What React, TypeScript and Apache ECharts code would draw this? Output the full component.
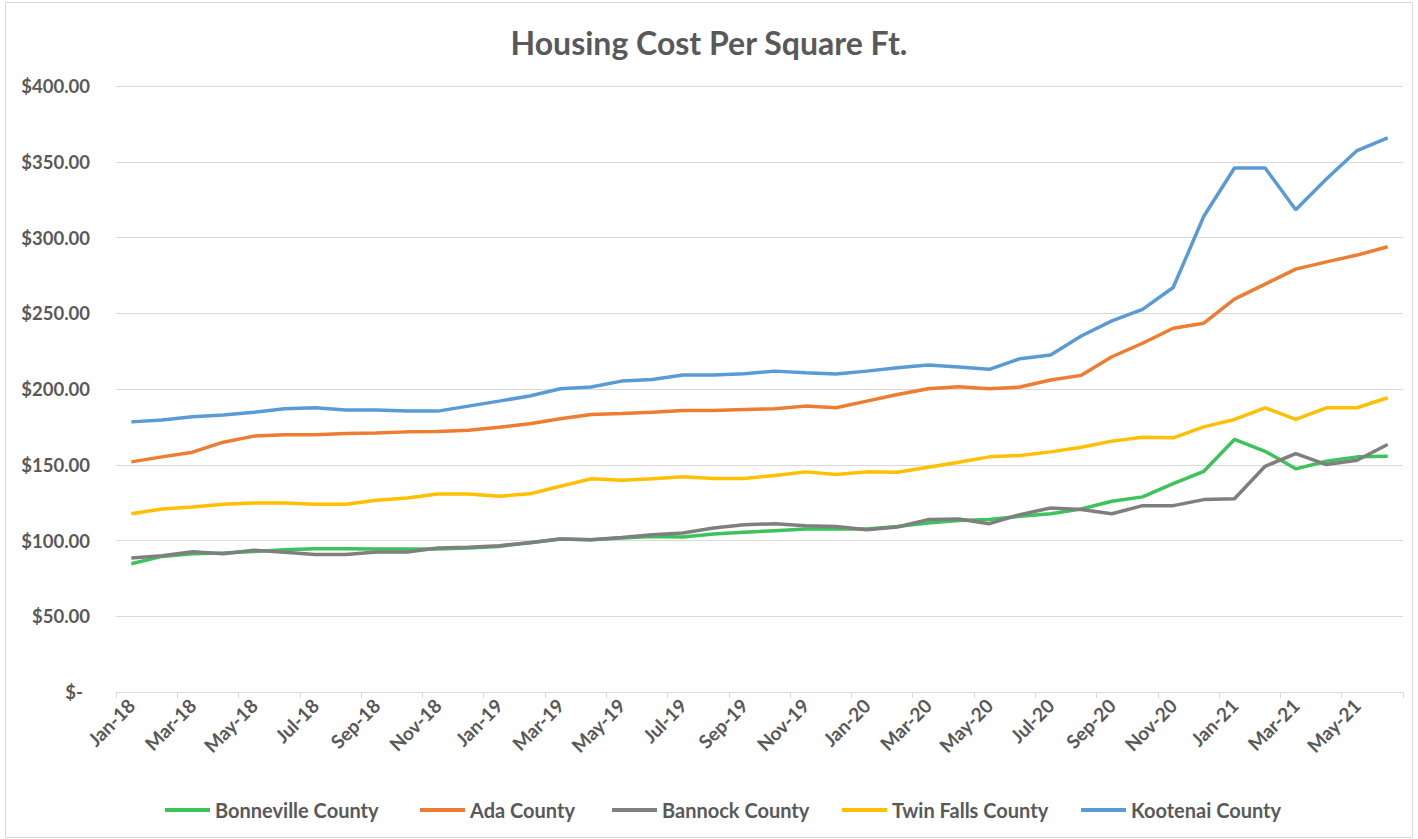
import React, { useEffect, useRef } from "react";
import * as echarts from "echarts";

const months = [
  "Jan-18","Feb-18","Mar-18","Apr-18","May-18","Jun-18","Jul-18","Aug-18","Sep-18","Oct-18","Nov-18","Dec-18",
  "Jan-19","Feb-19","Mar-19","Apr-19","May-19","Jun-19","Jul-19","Aug-19","Sep-19","Oct-19","Nov-19","Dec-19",
  "Jan-20","Feb-20","Mar-20","Apr-20","May-20","Jun-20","Jul-20","Aug-20","Sep-20","Oct-20","Nov-20","Dec-20",
  "Jan-21","Feb-21","Mar-21","Apr-21","May-21","Jun-21",
];

const bonneville = [
  84.7, 89.5, 91.3, 91.7, 92.8, 93.9, 94.6, 94.6, 94.4, 94.4, 94.4, 95.0,
  96.1, 98.5, 101.0, 100.5, 101.6, 102.7, 102.3, 104.3, 105.4, 106.5, 107.6, 107.8,
  107.6, 109.3, 111.6, 113.2, 113.8, 116.0, 117.7, 120.8, 125.9, 128.8, 137.6, 145.7,
  166.7, 158.9, 147.3, 152.3, 155.2, 155.6,
];

const ada = [
  151.9, 155.2, 158.3, 164.9, 168.9, 169.8, 169.8, 170.6, 170.9, 171.7, 172.0, 172.8,
  174.8, 177.0, 180.3, 183.2, 183.9, 184.7, 185.8, 185.8, 186.5, 187.0, 188.7, 187.6,
  192.0, 196.4, 200.2, 201.5, 200.2, 201.3, 205.9, 209.0, 221.3, 230.2, 240.1, 243.4,
  259.3, 269.2, 279.1, 283.9, 288.4, 293.9,
];

const bannock = [
  88.4, 89.9, 92.6, 91.3, 93.5, 92.2, 90.8, 90.8, 92.4, 92.4, 95.0, 95.5,
  96.6, 98.5, 101.0, 100.5, 102.0, 103.8, 104.9, 108.2, 110.4, 111.1, 109.8, 109.3,
  107.1, 108.9, 113.8, 114.2, 111.1, 117.1, 121.5, 120.4, 117.7, 123.0, 123.0, 127.0,
  127.6, 149.0, 157.4, 150.1, 153.0, 163.4,
];

const twinFalls = [
  117.7, 120.8, 122.1, 123.9, 124.8, 124.8, 123.9, 123.9, 126.5, 128.1, 130.7, 130.7,
  129.2, 130.8, 135.8, 140.7, 139.8, 140.7, 142.0, 140.9, 140.9, 142.9, 145.3, 143.5,
  145.3, 145.1, 148.4, 151.7, 155.2, 156.1, 158.5, 161.6, 165.6, 168.2, 167.8, 175.0,
  179.9, 187.6, 179.9, 187.6, 187.6, 194.2,
];

const kootenai = [
  178.3, 179.5, 181.7, 182.8, 184.7, 187.0, 187.6, 186.1, 186.1, 185.4, 185.4, 188.7,
  192.0, 195.4, 200.2, 201.3, 205.2, 206.3, 209.2, 209.2, 210.1, 211.8, 210.8, 209.9,
  211.8, 214.1, 215.8, 214.6, 213.0, 220.0, 222.4, 235.0, 245.0, 252.6, 267.0, 314.0,
  345.9, 345.9, 318.3, 338.6, 357.4, 365.7,
];

const seriesNames = ["Bonneville County", "Ada County", "Bannock County", "Twin Falls County", "Kootenai County"];
const seriesColors = ["#3dc35c", "#ed7d31", "#7f7f7f", "#ffc000", "#5b9bd5"];
const seriesData = [bonneville, ada, bannock, twinFalls, kootenai];
const legendLefts = [165, 420, 612, 842, 1081];

const FONT = "Lato, 'Open Sans', sans-serif";
const TEXT = "#595959";

export default function App() {
  const ref = useRef<HTMLDivElement>(null);

  useEffect(() => {
    if (!ref.current) return;
    const chart = echarts.init(ref.current, undefined, { renderer: "svg" });
    chart.setOption({
      animation: false,
      backgroundColor: "#ffffff",
      textStyle: { fontFamily: FONT },
      title: {
        text: "Housing Cost Per Square Ft.",
        left: "center",
        top: 26,
        padding: 0,
        textStyle: { fontFamily: FONT, fontSize: 32, fontWeight: "bold", color: TEXT },
      },
      graphic: [
        {
          type: "rect",
          shape: { x: 5.5, y: 2.5, width: 1407, height: 835 },
          style: { fill: "none", stroke: "#d9d9d9", lineWidth: 1 },
          silent: true,
          z: -1,
        },
      ],
      legend: seriesNames.map((name, i) => ({
        data: [name],
        left: legendLefts[i],
        top: 800,
        padding: 0,
        icon: "rect",
        itemWidth: 45,
        itemHeight: 4,
        itemGap: 5,
        textStyle: { fontFamily: FONT, fontSize: 20, fontWeight: "bold", color: TEXT },
      })),
      grid: { left: 116, right: 15, top: 86, bottom: 147, containLabel: false },
      xAxis: {
        type: "category",
        data: months,
        boundaryGap: true,
        axisLine: { lineStyle: { color: "#d9d9d9", width: 1 } },
        axisTick: { show: true, interval: 1, length: 6, lineStyle: { color: "#d9d9d9" } },
        axisLabel: {
          interval: 1,
          rotate: 45,
          margin: 10,
          fontFamily: FONT,
          fontSize: 19,
          fontWeight: "bold",
          color: TEXT,
        },
        splitLine: { show: false },
      },
      yAxis: {
        type: "value",
        min: 0,
        max: 400,
        interval: 50,
        axisLine: { show: false },
        axisTick: { show: false },
        splitLine: { lineStyle: { color: "#d9d9d9", width: 1 } },
        axisLabel: {
          margin: 26,
          fontFamily: FONT,
          fontSize: 18.5,
          color: TEXT,
          fontWeight: "bold",
          formatter: (v: number) => (v === 0 ? "{z|$-}" : "$" + v.toFixed(2)),
          rich: {
            z: { fontFamily: FONT, fontSize: 18.5, fontWeight: "bold", color: TEXT, padding: [0, 7, 0, 0] },
          },
        },
      },
      series: seriesNames.map((name, i) => ({
        name,
        type: "line",
        data: seriesData[i],
        symbol: "none",
        smooth: false,
        lineStyle: { color: seriesColors[i], width: 3.5 },
        itemStyle: { color: seriesColors[i] },
      })),
    });
    return () => chart.dispose();
  }, []);

  return (
    <div
      ref={ref}
      style={{ position: "absolute", left: 0, top: 0, width: 1418, height: 839 }}
    />
  );
}
